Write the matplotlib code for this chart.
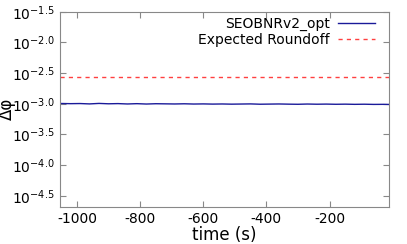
import matplotlib
matplotlib.use("Agg")
import matplotlib.pyplot as plt
import numpy as np

plt.rcParams['mathtext.default'] = 'regular'
plt.rcParams['font.family'] = 'DejaVu Sans'

# time (s) and log10 of phase difference
times = [-1054, -1020, -990, -960, -930, -900, -870, -840, -810, -780, -750,
         -720, -690, -660, -630, -600, -570, -540, -510, -480, -450, -420,
         -390, -360, -330, -300, -270, -240, -210, -180, -150, -120, -90,
         -60, -30, -10]
log_dphi = [-2.995, -2.998, -2.996, -3.002, -2.994, -3.000, -2.997, -3.003,
            -2.998, -3.004, -2.999, -3.001, -3.003, -3.000, -3.004, -3.002,
            -3.005, -3.003, -3.006, -3.004, -3.002, -3.007, -3.005, -3.003,
            -3.006, -3.008, -3.004, -3.007, -3.005, -3.008, -3.006, -3.009,
            -3.007, -3.010, -3.009, -3.011]
roundoff_log = -2.56

yticks = [-4.5, -4.0, -3.5, -3.0, -2.5, -2.0, -1.5]
xticks = [-1000, -800, -600, -400, -200]

dphi = 10 ** np.array(log_dphi)
roundoff = np.full(len(times), 10 ** roundoff_log)

fig = plt.figure(figsize=(4.07, 2.44), dpi=100)
ax = fig.add_axes([0.147, 0.152, 0.81, 0.80])
ax.plot(times, dphi, color='#1a1a99', lw=1.0, label='SEOBNRv2_opt')
ax.plot(times, roundoff, color='#ff4040', lw=1.0, ls=(0, (3, 3)), label='Expected Roundoff')

ax.set_yscale('log')
ax.set_ylim(10 ** -4.68, 10 ** -1.5)
ax.set_xlim(times[0], times[-1])
ax.set_yticks([10 ** t for t in yticks])
ax.set_yticklabels(['$10^{%.1f}$' % t for t in yticks])
ax.minorticks_off()
ax.set_xticks(xticks)
ax.set_xticklabels([str(t) for t in xticks])
ax.tick_params(direction='in', top=True, right=True, length=4, color='#888888', labelsize=10)
for s in ax.spines.values():
    s.set_color('#888888')
ax.set_xlabel('time (s)', fontsize=12, labelpad=0)
ax.set_ylabel('Δφ', fontsize=12)
ax.yaxis.set_label_coords(-0.132, 0.5)
ax.legend(loc='upper right', bbox_to_anchor=(0.974, 1.0), frameon=False,
          markerfirst=False, fontsize=10, handlelength=2.7, handletextpad=0.6,
          borderaxespad=0, labelspacing=0.1)

fig.savefig('out.png', dpi=100)
